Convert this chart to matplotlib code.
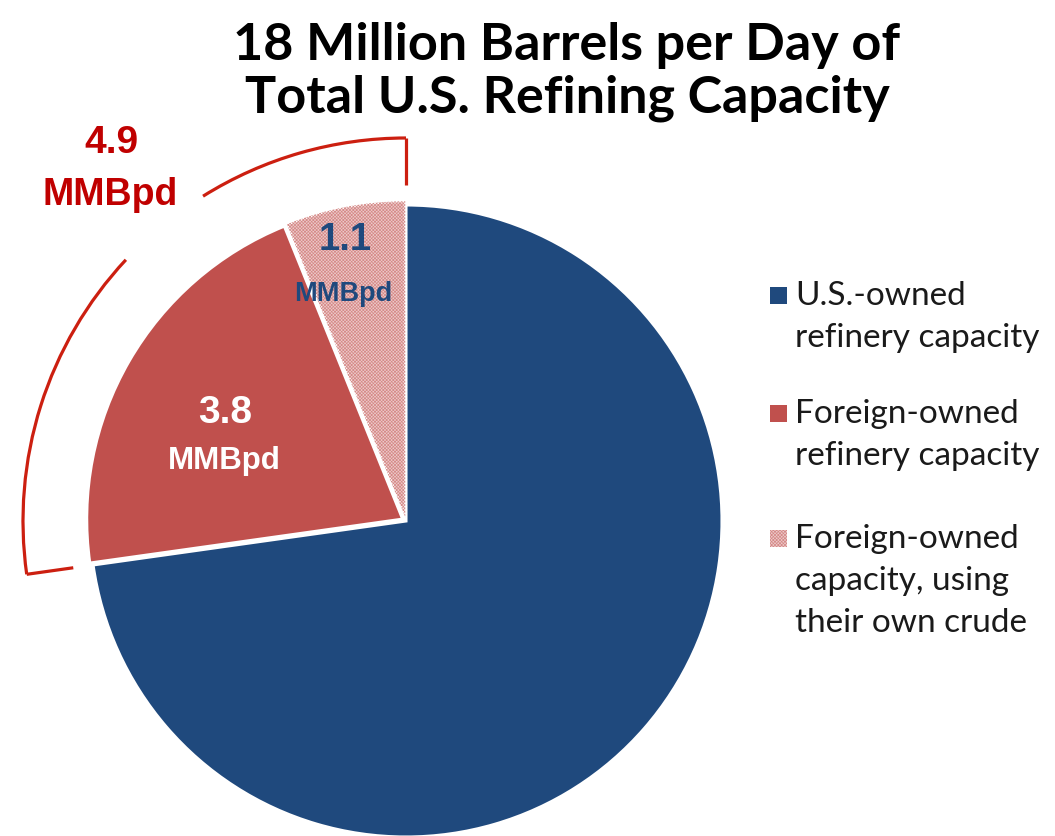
import numpy as np
import matplotlib
matplotlib.use("Agg")
from matplotlib import pyplot as plt
from matplotlib.patches import Arc, Wedge, Rectangle

# refining capacity, million barrels per day
total = 18.0
shares = [13.1, 3.8, 1.1]
share_labels = ["3.8", "1.1"]
foreign_label = "4.9"
legend_labels = ["U.S.-owned\nrefinery capacity",
                 "Foreign-owned\nrefinery capacity",
                 "Foreign-owned\ncapacity, using\ntheir own crude"]
title = "18 Million Barrels per Day of\nTotal U.S. Refining Capacity"

BLUE = "#1F497D"
RED = "#C0504D"
PINK = "#EDCACA"
HATCH = "#D58A88"
DARKRED = "#C00000"
ARCRED = "#CC1F10"

W, H = 1055, 837
CX, CY, R = 406, 522, 316   # pie centre / radius in pixels


def px(x, y):
    # pixel (from top-left) -> data coords, 1 unit = pie radius
    return (x - CX) / R, (CY - y) / R


fig = plt.figure(figsize=(W / 100, H / 100), dpi=100)
ax = fig.add_axes([0, 0, 1, 1])
x0, y0 = px(0, H)
x1, y1 = px(W, 0)
ax.axis("off")

plt.rcParams["hatch.linewidth"] = 0.5

wedges, _ = ax.pie(shares, colors=[BLUE, RED, PINK], startangle=90, counterclock=False,
                   explode=[0, 0.012, 0.012], radius=1,
                   wedgeprops=dict(edgecolor="white", linewidth=2.2))
ax.set_xlim(x0, x1)
ax.set_ylim(y0, y1)
ax.set_aspect("auto")

# fine cross pattern on the "own crude" slice
w = wedges[2]
ax.add_patch(Wedge(w.center, w.r, w.theta1, w.theta2, facecolor="none",
                   edgecolor=HATCH, linewidth=0, hatch="xxxxxxxxxx", zorder=w.get_zorder() + 0.1))

# slice labels
ax.text(*px(225, 413), share_labels[0], color="white", fontsize=28, fontweight="bold",
        family="Liberation Sans", ha="center", va="center")
ax.text(*px(224, 461), "MMBpd", color="white", fontsize=22.5, fontweight="bold",
        family="Liberation Sans", ha="center", va="center")
ax.text(*px(345, 240), share_labels[1], color=BLUE, fontsize=27.5, fontweight="bold",
        family="Liberation Sans", ha="center", va="center")
ax.text(*px(343, 294), "MMBpd", color=BLUE, fontsize=19.5, fontweight="bold",
        family="Liberation Sans", ha="center", va="center")

# bracket round the foreign-owned share
r_out, r_in = 383 / R, 336 / R
a_end = 90 + 360 * (shares[1] + shares[2]) / total
for t1, t2 in [(90, 122), (137, a_end)]:
    ax.add_patch(Arc((0, 0), 2 * r_out, 2 * r_out, theta1=t1, theta2=t2,
                     color=ARCRED, linewidth=2.3))
for a in [90, a_end]:
    c, s = np.cos(np.radians(a)), np.sin(np.radians(a))
    ax.plot([r_in * c, r_out * c], [r_in * s, r_out * s], color=ARCRED, linewidth=2.3,
            solid_capstyle="butt")

ax.text(*px(111, 143), foreign_label, color=DARKRED, fontsize=28, fontweight="bold",
        family="Liberation Sans", ha="center", va="center")
ax.text(*px(110, 195), "MMBpd", color=DARKRED, fontsize=27, fontweight="bold",
        family="Liberation Sans", ha="center", va="center")

# title
fig.text(567 / W, 1 - 72 / H, title, ha="center", va="center", fontsize=37.5,
         fontweight="bold", family="Lato", linespacing=1.15)

# legend
entry_tops = [297, 415, 540]
for lab, col, yt in zip(legend_labels, [BLUE, RED, PINK], entry_tops):
    bx, by = px(770, yt + 8)
    ax.add_patch(Rectangle((bx, by), 17 / R, 17 / R, facecolor=col, edgecolor="none"))
    if col == PINK:
        ax.add_patch(Rectangle((bx, by), 17 / R, 17 / R, facecolor="none", edgecolor=HATCH,
                               linewidth=0, hatch="xxxxxxxxxx"))
    ax.text(*px(795, yt - 16), lab, color="#1a1a1a", fontsize=24, family="Lato",
            ha="left", va="top", linespacing=1.5)

fig.savefig("out.png", dpi=100, facecolor="white")
